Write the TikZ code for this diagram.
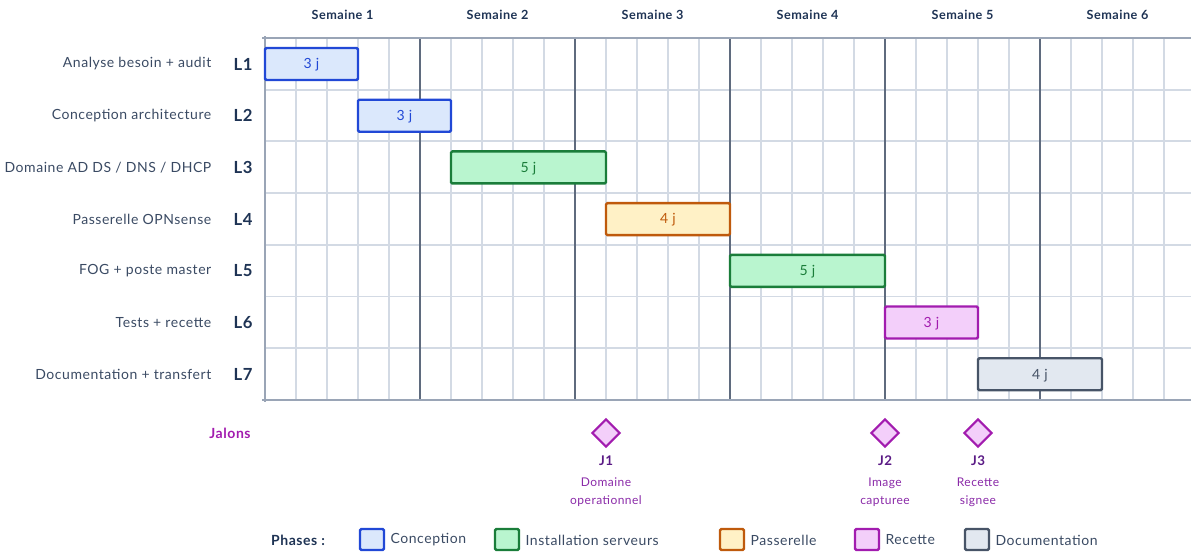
\documentclass[tikz,border=0pt]{standalone}
\usepackage{fontspec}
\setmainfont{Lato}[LetterSpace=4]
\usepackage{xcolor}
\usepackage{tikz}
\usetikzlibrary{calc,positioning,shapes.geometric}
\definecolor{concline}{HTML}{2148D6}
\definecolor{concfill}{HTML}{DBE8FC}
\definecolor{instline}{HTML}{1A7D3A}
\definecolor{instfill}{HTML}{B9F5CF}
\definecolor{passline}{HTML}{BF5A0C}
\definecolor{passfill}{HTML}{FFF1C6}
\definecolor{recline}{HTML}{A21CAF}
\definecolor{recfill}{HTML}{F3CFFA}
\definecolor{docline}{HTML}{475467}
\definecolor{docfill}{HTML}{E2E8F0}
\definecolor{gridgray}{HTML}{D3DAE4}
\definecolor{weekgray}{HTML}{5F6B7E}
\definecolor{framegray}{HTML}{9AA5B6}
\definecolor{navy}{HTML}{1E3354}
\definecolor{labelgray}{HTML}{3A4A63}
\definecolor{jdark}{HTML}{5A1A85}
\definecolor{jtext}{HTML}{8A2AA8}
% one bar: phase, first day, last day, row, text, name
\newcommand{\ganttbar}[6]{%
  \draw[barline,draw=#1line,fill=#1fill]
        ({265+31*#2},{64+51.7*(#4-1)-16}) rectangle ({265+31*#3},{64+51.7*(#4-1)+16});
  \node[bartext,text=#1line] (#6) at ({265+15.5*(#2+#3)},{64+51.7*(#4-1)+1}) {#5};}
\tikzset{
  gridln/.style   = {gridgray, line width=1.4pt},
  weekln/.style   = {weekgray, line width=1.5pt},
  frameln/.style  = {framegray, line width=2pt},
  barline/.style  = {line width=1.8pt, rounded corners=1pt},
  bartext/.style  = {font=\fontsize{10.5}{12}\selectfont},
  weeklbl/.style  = {font=\bfseries\fontsize{9.5}{11}\selectfont, text=navy},
  rowlbl/.style   = {anchor=east, font=\fontsize{10.5}{12}\selectfont, text=labelgray},
  rowid/.style    = {font=\bfseries\fontsize{12.5}{14}\selectfont, text=navy},
  jalon/.style    = {diamond, draw=recline, fill=recfill, line width=1.6pt,
                     minimum size=21pt, inner sep=0pt},
  jname/.style    = {font=\bfseries\fontsize{10}{12}\selectfont, text=jdark},
  jdesc/.style    = {align=center, font=\fontsize{9}{13.5}\selectfont, text=jtext},
  legbox/.style   = {line width=1.8pt, rounded corners=1pt},
  legtext/.style  = {anchor=west, font=\fontsize{10.5}{12}\selectfont, text=labelgray, inner sep=1pt}
}
\begin{document}
\begin{tikzpicture}[x=0.75pt,y=-0.75pt]
  \useasboundingbox (0,0) rectangle (1191,551);
  % --- grid: days, rows, weeks -------------------------------------------
  \foreach \d in {1,...,29}
    \draw[gridln] ({265+31*\d},38) -- ({265+31*\d},400);
  \foreach \r in {1,...,6}
    \draw[gridln] (265,{38+51.7*\r}) -- (1191,{38+51.7*\r});
  \foreach \w in {1,...,5}
    \draw[weekln] ({265+155*\w},38) -- ({265+155*\w},400);
  % frame of the chart
  \draw[frameln] (262,38) -- (1191,38);
  \draw[frameln] (262,400) -- (1191,400);
  \draw[frameln] (265,36) -- (265,402);
  % --- week headers ------------------------------------------------------
  \foreach \w in {1,...,6}
    \node[weeklbl] (sem\w) at ({265+155*(\w-0.5)},15) {Semaine \w};
  % --- task names and row ids --------------------------------------------
  \foreach \r/\txt in {1/Analyse besoin + audit, 2/Conception architecture,
                       3/{Domaine AD DS / DNS / DHCP}, 4/Passerelle OPNsense,
                       5/FOG + poste master, 6/Tests + recette,
                       7/Documentation + transfert} {
    \node[rowlbl] (tache\r) at (216,{64+51.7*(\r-1)}) {\txt};
    \node[rowid] (lot\r) at (243,{64+51.7*(\r-1)}) {L\r};
  }
  % --- the bars -----------------------------------------------------------
  \ganttbar{conc}{0}{3}{1}{3 j}{bar1}
  \ganttbar{conc}{3}{6}{2}{3 j}{bar2}
  \ganttbar{inst}{6}{11}{3}{5 j}{bar3}
  \ganttbar{pass}{11}{15}{4}{4 j}{bar4}
  \ganttbar{inst}{15}{20}{5}{5 j}{bar5}
  \ganttbar{rec}{20}{23}{6}{3 j}{bar6}
  \ganttbar{doc}{23}{27}{7}{4 j}{bar7}
  % --- milestones -----------------------------------------------------------
  \node[font=\bfseries\fontsize{10.5}{12}\selectfont, text=recline] (jalons) at (230,433) {Jalons};
  \node[jalon] (j1) at (606,433) {};
  \node[jalon] (j2) at (885,433) {};
  \node[jalon] (j3) at (978,433) {};
  \node[jname] (j1n) at (606,461) {J1};
  \node[jname] (j2n) at (885,461) {J2};
  \node[jname] (j3n) at (978,461) {J3};
  \node[jdesc, below=2pt of j1n] (j1d) {Domaine\\operationnel};
  \node[jdesc, below=2pt of j2n] (j2d) {Image\\capturee};
  \node[jdesc, below=2pt of j3n] (j3d) {Recette\\signee};
  % --- legend ---------------------------------------------------------------
  \node[font=\bfseries\fontsize{10.5}{12}\selectfont, text=navy] (phases) at (298,540) {Phases :};
  \foreach \ph/\x/\txt in {conc/360/Conception, inst/495/Installation serveurs,
                           pass/720/Passerelle, rec/855/Recette, doc/965/Documentation} {
    \draw[legbox, draw=\ph line, fill=\ph fill] (\x,529) rectangle ({\x+24},550);
    \node[legtext] (leg\ph) at ({\x+29},540) {\txt};
  }
\end{tikzpicture}
\end{document}
